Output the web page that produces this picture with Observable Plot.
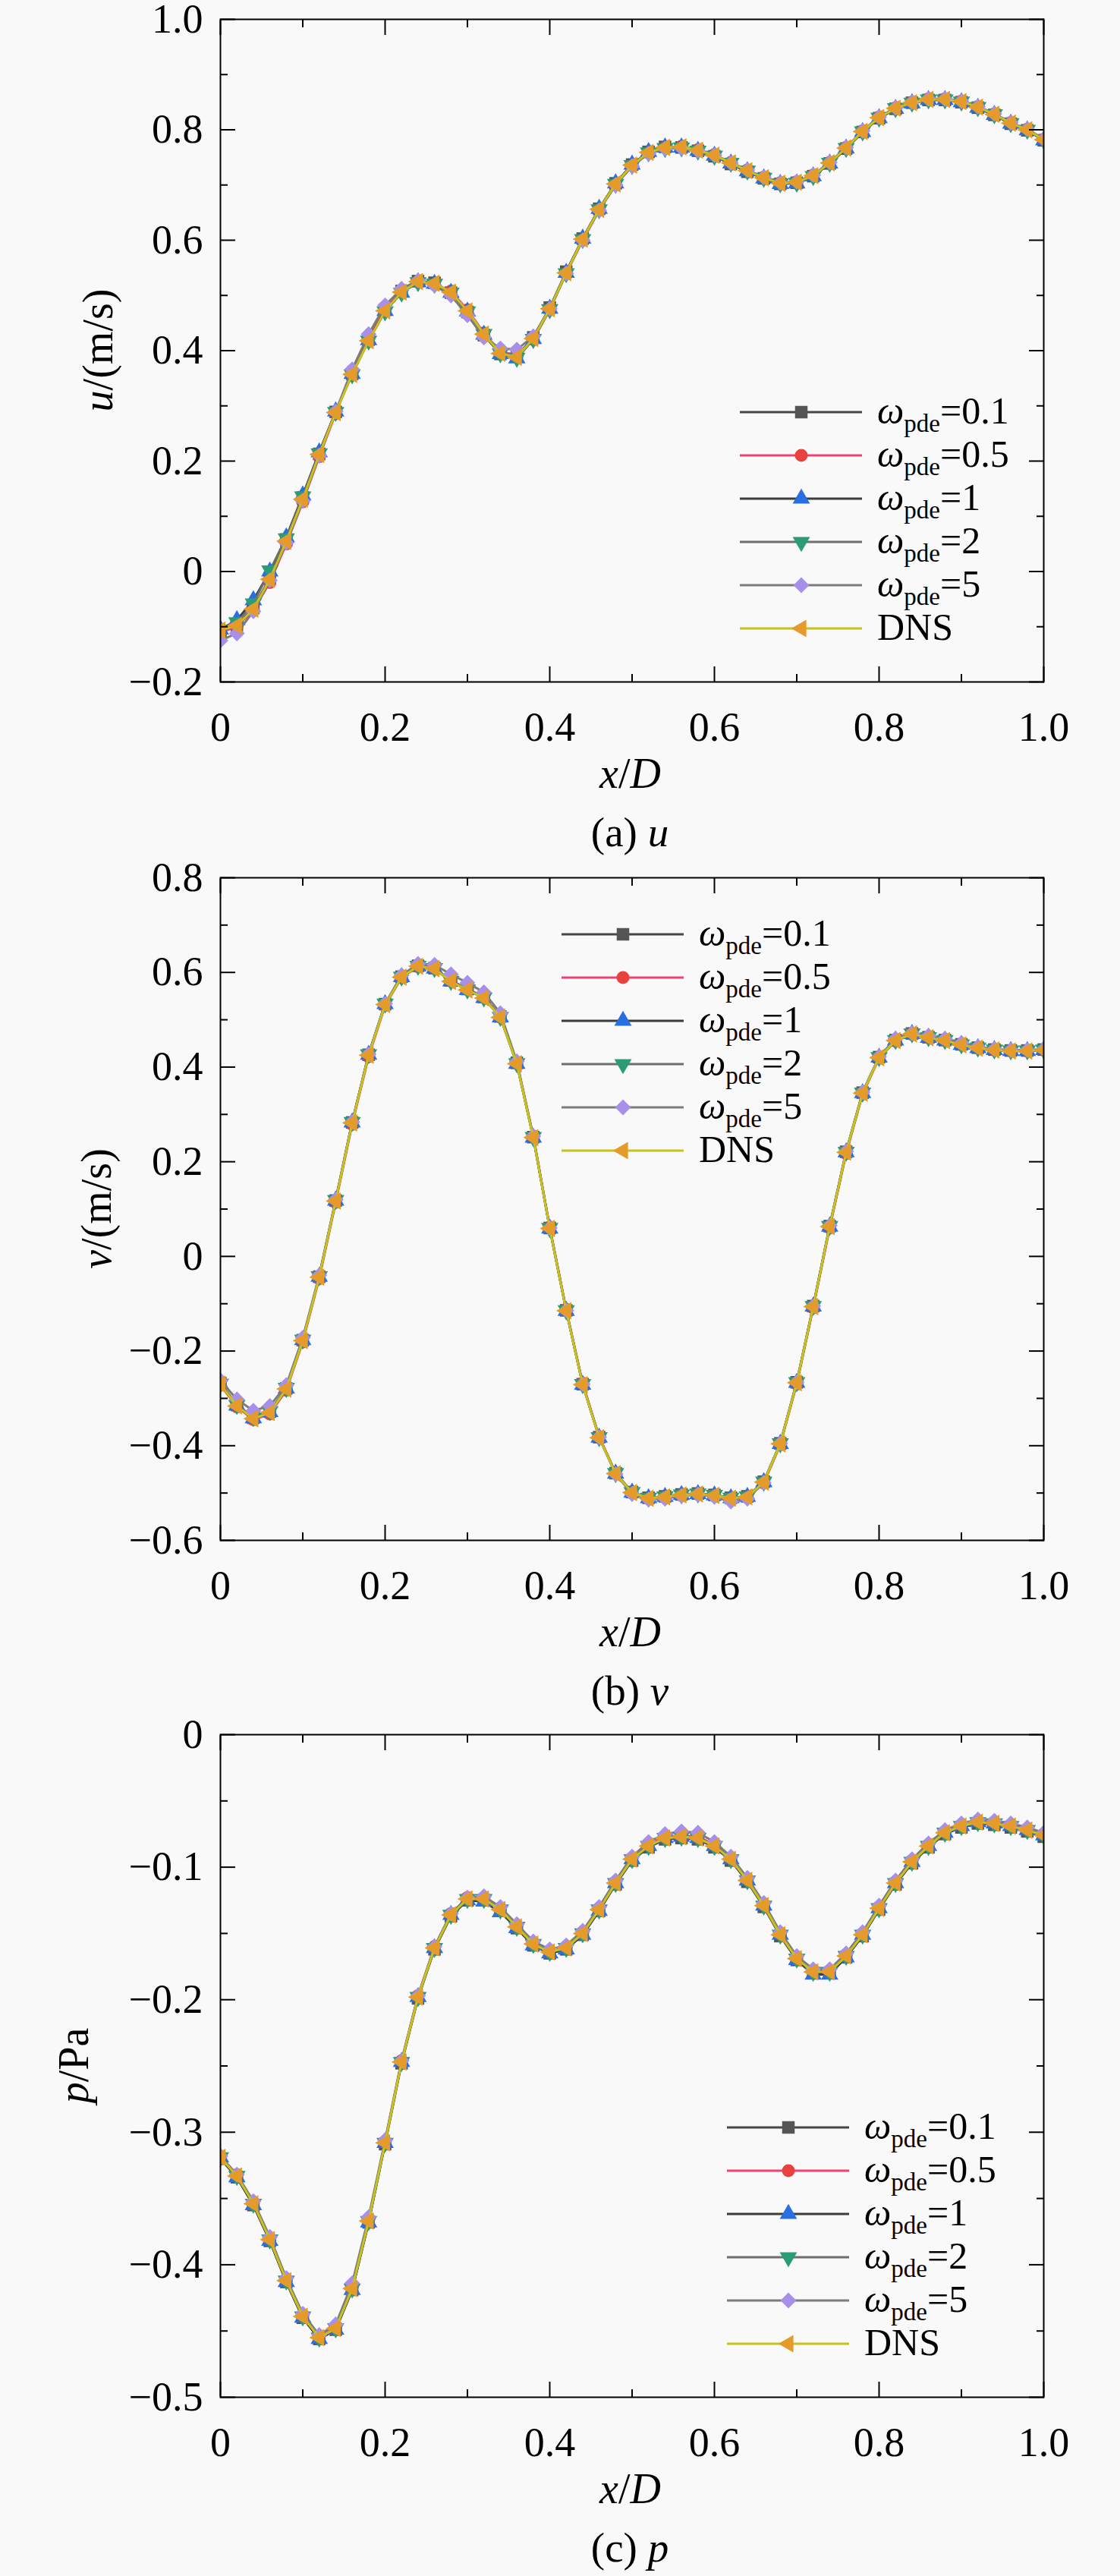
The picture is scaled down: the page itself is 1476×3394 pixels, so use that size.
<!DOCTYPE html>
<html>
<head>
<meta charset="utf-8">
<script src="https://cdn.jsdelivr.net/npm/d3@7"></script>
<script src="https://cdn.jsdelivr.net/npm/@observablehq/plot@0.6"></script>
<style>
html, body { margin: 0; padding: 0; background: #f9f9f9; }
body { width: 1476px; font-family: "Liberation Serif", "Times New Roman", serif; }
.panel { width: 1476px; }
.panel svg { display: block; }
.caption { height: 73px; box-sizing: border-box; padding-top: 11px; padding-left: 184px;
  font-size: 55px; line-height: 55px; text-align: center; color: #000; white-space: nowrap; }
.caption i { font-style: italic; }
</style>
</head>
<body>
<div id="root"></div>
<script>
// ---------- data ----------
const xPos = [0,0.02,0.04,0.06,0.08,0.1,0.12,0.14,0.16,0.18,0.2,0.22,0.24,0.26,0.28,0.3,0.32,0.34,0.36,0.38,0.4,0.42,0.44,0.46,0.48,0.5,0.52,0.54,0.56,0.58,0.6,0.62,0.64,0.66,0.68,0.7,0.72,0.74,0.76,0.78,0.8,0.82,0.84,0.86,0.88,0.9,0.92,0.94,0.96,0.98,1.0];

const seriesNames = ["0.1", "0.5", "1", "2", "5", "DNS"];

// u (m/s)
const u_w01 = [-0.108,-0.097,-0.066,-0.012,0.058,0.134,0.213,0.289,0.358,0.420,0.474,0.508,0.526,0.523,0.505,0.470,0.428,0.394,0.390,0.424,0.478,0.543,0.603,0.657,0.703,0.737,0.760,0.769,0.768,0.762,0.752,0.738,0.724,0.712,0.702,0.704,0.716,0.739,0.766,0.796,0.821,0.838,0.849,0.854,0.854,0.850,0.840,0.827,0.811,0.799,0.781];
const u_w05 = [-0.110,-0.100,-0.070,-0.020,0.050,0.126,0.208,0.286,0.364,0.424,0.476,0.508,0.524,0.520,0.508,0.474,0.432,0.398,0.392,0.420,0.474,0.540,0.600,0.655,0.700,0.735,0.758,0.768,0.770,0.764,0.755,0.741,0.727,0.714,0.704,0.706,0.718,0.741,0.768,0.798,0.823,0.840,0.850,0.856,0.856,0.852,0.842,0.829,0.813,0.801,0.783];
const u_w1  = [-0.105,-0.088,-0.052,0.000,0.062,0.138,0.216,0.290,0.358,0.419,0.472,0.505,0.524,0.521,0.505,0.471,0.429,0.394,0.386,0.421,0.476,0.541,0.603,0.657,0.703,0.737,0.760,0.768,0.768,0.762,0.753,0.739,0.725,0.712,0.702,0.703,0.716,0.739,0.766,0.796,0.821,0.838,0.848,0.854,0.854,0.850,0.840,0.827,0.811,0.799,0.781];
const u_w2  = [-0.107,-0.092,-0.058,0.002,0.060,0.136,0.214,0.289,0.357,0.418,0.471,0.505,0.524,0.521,0.505,0.471,0.430,0.395,0.387,0.421,0.475,0.540,0.602,0.656,0.702,0.736,0.759,0.767,0.768,0.762,0.753,0.740,0.726,0.713,0.703,0.704,0.716,0.740,0.767,0.797,0.822,0.839,0.849,0.855,0.855,0.851,0.841,0.828,0.812,0.800,0.782];
const u_w5  = [-0.125,-0.112,-0.072,-0.016,0.052,0.128,0.210,0.290,0.366,0.430,0.482,0.512,0.527,0.518,0.500,0.464,0.424,0.404,0.402,0.426,0.476,0.540,0.600,0.654,0.700,0.734,0.757,0.766,0.767,0.762,0.754,0.740,0.727,0.714,0.704,0.706,0.718,0.741,0.768,0.798,0.823,0.840,0.850,0.856,0.856,0.852,0.842,0.829,0.813,0.801,0.783];
const u_dns = [-0.106,-0.098,-0.068,-0.014,0.055,0.131,0.212,0.288,0.357,0.418,0.472,0.506,0.525,0.522,0.506,0.472,0.430,0.395,0.388,0.422,0.476,0.541,0.602,0.656,0.702,0.736,0.759,0.768,0.769,0.763,0.754,0.740,0.726,0.713,0.703,0.705,0.717,0.740,0.767,0.797,0.822,0.839,0.849,0.855,0.855,0.851,0.841,0.828,0.812,0.800,0.782];

// v (m/s)
const v_w01 = [-0.268,-0.314,-0.341,-0.328,-0.279,-0.177,-0.043,0.118,0.283,0.426,0.533,0.591,0.614,0.609,0.583,0.565,0.548,0.507,0.409,0.252,0.060,-0.114,-0.270,-0.382,-0.458,-0.498,-0.510,-0.507,-0.503,-0.501,-0.504,-0.510,-0.507,-0.476,-0.395,-0.266,-0.105,0.064,0.221,0.346,0.421,0.457,0.471,0.463,0.457,0.448,0.441,0.437,0.435,0.435,0.437];
const v_w05 = [-0.272,-0.318,-0.345,-0.333,-0.283,-0.181,-0.047,0.114,0.279,0.422,0.530,0.589,0.612,0.608,0.582,0.564,0.547,0.506,0.409,0.254,0.062,-0.112,-0.268,-0.381,-0.458,-0.499,-0.512,-0.509,-0.505,-0.503,-0.506,-0.512,-0.509,-0.479,-0.398,-0.270,-0.109,0.060,0.217,0.343,0.419,0.455,0.469,0.462,0.456,0.447,0.440,0.436,0.434,0.434,0.436];
const v_w1  = [-0.270,-0.315,-0.342,-0.329,-0.279,-0.177,-0.043,0.118,0.283,0.426,0.533,0.590,0.613,0.608,0.581,0.563,0.546,0.505,0.407,0.251,0.059,-0.115,-0.271,-0.383,-0.459,-0.499,-0.511,-0.508,-0.504,-0.502,-0.505,-0.511,-0.508,-0.477,-0.396,-0.267,-0.106,0.063,0.220,0.345,0.420,0.456,0.470,0.462,0.456,0.447,0.440,0.436,0.434,0.434,0.436];
const v_w2  = [-0.269,-0.314,-0.340,-0.327,-0.278,-0.176,-0.042,0.119,0.284,0.427,0.534,0.591,0.614,0.609,0.582,0.564,0.547,0.506,0.408,0.252,0.060,-0.114,-0.270,-0.382,-0.458,-0.498,-0.510,-0.507,-0.503,-0.501,-0.504,-0.510,-0.507,-0.476,-0.395,-0.266,-0.105,0.064,0.221,0.346,0.421,0.457,0.471,0.463,0.457,0.448,0.441,0.437,0.435,0.435,0.437];
const v_w5  = [-0.262,-0.302,-0.326,-0.316,-0.272,-0.172,-0.040,0.120,0.284,0.427,0.534,0.594,0.618,0.616,0.596,0.578,0.558,0.514,0.412,0.254,0.060,-0.114,-0.270,-0.382,-0.460,-0.502,-0.514,-0.512,-0.506,-0.503,-0.508,-0.518,-0.512,-0.478,-0.395,-0.266,-0.105,0.065,0.222,0.347,0.422,0.460,0.472,0.466,0.460,0.451,0.443,0.438,0.436,0.436,0.438];
const v_dns = [-0.270,-0.316,-0.343,-0.330,-0.280,-0.178,-0.044,0.117,0.282,0.425,0.532,0.590,0.613,0.608,0.581,0.563,0.546,0.505,0.407,0.251,0.059,-0.115,-0.271,-0.383,-0.459,-0.499,-0.511,-0.508,-0.504,-0.502,-0.505,-0.511,-0.508,-0.477,-0.396,-0.267,-0.106,0.063,0.220,0.345,0.420,0.456,0.470,0.462,0.456,0.447,0.440,0.436,0.434,0.434,0.436];

// p (Pa)
const p_w01 = [-0.320,-0.334,-0.355,-0.382,-0.413,-0.440,-0.456,-0.449,-0.419,-0.368,-0.309,-0.248,-0.199,-0.162,-0.137,-0.125,-0.125,-0.133,-0.146,-0.159,-0.165,-0.162,-0.151,-0.133,-0.113,-0.095,-0.085,-0.079,-0.078,-0.079,-0.085,-0.095,-0.111,-0.130,-0.152,-0.170,-0.180,-0.180,-0.168,-0.152,-0.132,-0.113,-0.097,-0.085,-0.075,-0.070,-0.067,-0.068,-0.070,-0.073,-0.077];
const p_w05 = [-0.318,-0.332,-0.353,-0.380,-0.411,-0.438,-0.454,-0.447,-0.417,-0.366,-0.307,-0.246,-0.197,-0.160,-0.135,-0.123,-0.123,-0.131,-0.144,-0.157,-0.163,-0.160,-0.149,-0.131,-0.111,-0.093,-0.083,-0.077,-0.076,-0.077,-0.083,-0.093,-0.109,-0.128,-0.150,-0.168,-0.178,-0.178,-0.166,-0.150,-0.130,-0.111,-0.095,-0.083,-0.073,-0.068,-0.065,-0.066,-0.068,-0.071,-0.075];
const p_w1  = [-0.319,-0.334,-0.355,-0.382,-0.413,-0.440,-0.456,-0.449,-0.419,-0.368,-0.308,-0.247,-0.198,-0.161,-0.136,-0.125,-0.126,-0.134,-0.146,-0.159,-0.165,-0.162,-0.151,-0.133,-0.112,-0.094,-0.084,-0.078,-0.077,-0.078,-0.084,-0.094,-0.110,-0.129,-0.151,-0.170,-0.181,-0.181,-0.168,-0.151,-0.131,-0.112,-0.096,-0.084,-0.074,-0.069,-0.066,-0.067,-0.069,-0.072,-0.076];
const p_w2  = [-0.319,-0.333,-0.354,-0.381,-0.412,-0.439,-0.455,-0.448,-0.418,-0.367,-0.308,-0.247,-0.198,-0.161,-0.136,-0.124,-0.124,-0.132,-0.145,-0.158,-0.164,-0.161,-0.150,-0.132,-0.112,-0.094,-0.084,-0.078,-0.077,-0.078,-0.084,-0.094,-0.110,-0.129,-0.151,-0.169,-0.179,-0.179,-0.167,-0.151,-0.131,-0.112,-0.096,-0.084,-0.074,-0.069,-0.066,-0.067,-0.069,-0.072,-0.076];
const p_w5  = [-0.318,-0.332,-0.352,-0.379,-0.410,-0.437,-0.453,-0.445,-0.414,-0.364,-0.306,-0.246,-0.197,-0.160,-0.135,-0.123,-0.122,-0.130,-0.143,-0.156,-0.162,-0.159,-0.148,-0.130,-0.110,-0.092,-0.081,-0.075,-0.073,-0.074,-0.081,-0.092,-0.108,-0.127,-0.149,-0.167,-0.177,-0.177,-0.165,-0.149,-0.129,-0.110,-0.094,-0.082,-0.072,-0.067,-0.064,-0.065,-0.067,-0.070,-0.074];
const p_dns = [-0.319,-0.333,-0.354,-0.381,-0.412,-0.439,-0.455,-0.448,-0.418,-0.367,-0.308,-0.247,-0.198,-0.161,-0.136,-0.124,-0.124,-0.132,-0.145,-0.158,-0.164,-0.161,-0.150,-0.132,-0.112,-0.094,-0.084,-0.078,-0.077,-0.078,-0.084,-0.094,-0.110,-0.129,-0.151,-0.169,-0.179,-0.179,-0.167,-0.151,-0.131,-0.112,-0.096,-0.084,-0.074,-0.069,-0.066,-0.067,-0.069,-0.072,-0.076];

// ticks
const xTicks = [0, 0.2, 0.4, 0.6, 0.8, 1.0];
const xMinor = [0.1, 0.3, 0.5, 0.7, 0.9];
const uTicks = [-0.2, 0, 0.2, 0.4, 0.6, 0.8, 1.0];
const uMinor = [-0.1, 0.1, 0.3, 0.5, 0.7, 0.9];
const vTicks = [-0.6, -0.4, -0.2, 0, 0.2, 0.4, 0.6, 0.8];
const vMinor = [-0.5, -0.3, -0.1, 0.1, 0.3, 0.5, 0.7];
const pTicks = [-0.5, -0.4, -0.3, -0.2, -0.1, 0];
const pMinor = [-0.45, -0.35, -0.25, -0.15, -0.05];

// ---------- styles ----------
const seriesStyle = [
  {line: "#474747", fill: "#555555", symbol: "square",   rotate: 0,   r: 9.3},
  {line: "#ef4274", fill: "#e8423e", symbol: "circle",   rotate: 0,   r: 8.5},
  {line: "#3c3c3c", fill: "#2a6fe0", symbol: "triangle", rotate: 0,   r: 8.5},
  {line: "#6e6e6e", fill: "#2b9b78", symbol: "triangle", rotate: 180, r: 8.5},
  {line: "#7c7c7c", fill: "#a78fea", symbol: "square",   rotate: 45,  r: 8.3},
  {line: "#c9c21c", fill: "#e49b2a", symbol: "triangle", rotate: -90, r: 8.5}
];
const symbolMap = {square: d3.symbolSquare, circle: d3.symbolCircle, triangle: d3.symbolTriangle};

const FF = '"Liberation Serif", "Times New Roman", serif';
const ML = 290, MR = 101, FH = 873, FW = 1476 - ML - MR, MB = 160;

const panels = [
  {values: [u_w01, u_w05, u_w1, u_w2, u_w5, u_dns], domain: [-0.2, 1.0], ticks: uTicks, minor: uMinor,
   mTop: 25, yVar: "u", yUnit: "/(m/s)", yLabelX: 132, legLeft: 685, legTop: 518, cap: "(a) ", capVar: "u"},
  {values: [v_w01, v_w05, v_w1, v_w2, v_w5, v_dns], domain: [-0.6, 0.8], ticks: vTicks, minor: vMinor,
   mTop: 25, yVar: "v", yUnit: "/(m/s)", yLabelX: 130, legLeft: 450, legTop: 75, cap: "(b) ", capVar: "v"},
  {values: [p_w01, p_w05, p_w1, p_w2, p_w5, p_dns], domain: [-0.5, 0], ticks: pTicks, minor: pMinor,
   mTop: 23, yVar: "p", yUnit: "/Pa", yLabelX: 100, legLeft: 668, legTop: 518, cap: "(c) ", capVar: "p"}
];

const fmt = d => Math.abs(d) < 1e-9 ? "0" : d3.format(".1f")(d);
const blank = () => "";

function buildPanel(cfg) {
  const marks = [];
  cfg.values.forEach((vals, i) => {
    const st = seriesStyle[i];
    const rows = xPos.map((x, j) => ({x, y: vals[j], s: seriesNames[i]}));
    marks.push(Plot.line(rows, {x: "x", y: "y", stroke: st.line, strokeWidth: 3, clip: true}));
    marks.push(Plot.dot(rows, {x: "x", y: "y", symbol: st.symbol, rotate: st.rotate, r: st.r, fill: st.fill, stroke: "none", clip: true}));
  });
  const axStyle = {fontSize: 54, fontFamily: FF, strokeWidth: 2, label: null};
  marks.push(
    Plot.axisY(cfg.ticks, {...axStyle, anchor: "left", tickSize: -20, tickPadding: 43, tickFormat: fmt}),
    Plot.axisY(cfg.minor, {...axStyle, anchor: "left", tickSize: -10, tickPadding: 0, tickFormat: blank}),
    Plot.axisY(cfg.ticks, {...axStyle, anchor: "right", tickSize: -20, tickPadding: 0, tickFormat: blank}),
    Plot.axisY(cfg.minor, {...axStyle, anchor: "right", tickSize: -10, tickPadding: 0, tickFormat: blank}),
    Plot.axisX(xTicks, {...axStyle, anchor: "bottom", tickSize: -20, tickPadding: 59, tickFormat: fmt}),
    Plot.axisX(xMinor, {...axStyle, anchor: "bottom", tickSize: -10, tickPadding: 0, tickFormat: blank}),
    Plot.axisX(xTicks, {...axStyle, anchor: "top", tickSize: -20, tickPadding: 0, tickFormat: blank}),
    Plot.axisX(xMinor, {...axStyle, anchor: "top", tickSize: -10, tickPadding: 0, tickFormat: blank}),
    Plot.frame({stroke: "#000", strokeWidth: 2})
  );
  const svg = Plot.plot({
    width: 1476,
    height: cfg.mTop + FH + MB,
    marginLeft: ML, marginRight: MR, marginTop: cfg.mTop, marginBottom: MB,
    x: {domain: [0, 1], label: null},
    y: {domain: cfg.domain, label: null},
    style: {background: "transparent", color: "#000", fontFamily: FF, fontSize: "54px", overflow: "visible"},
    marks
  });
  decorate(svg, cfg);
  return svg;
}

function decorate(svg, cfg) {
  const s = d3.select(svg);
  const T = cfg.mTop;
  // x-axis label
  const xl = s.append("text")
    .attr("x", ML + FW / 2 - 2).attr("y", T + FH + 140)
    .attr("text-anchor", "middle").attr("font-family", FF).attr("font-size", 56).attr("fill", "#000");
  xl.append("tspan").attr("font-style", "italic").text("x");
  xl.append("tspan").text("/");
  xl.append("tspan").attr("font-style", "italic").text("D");
  // y-axis label
  const yl = s.append("text")
    .attr("transform", `translate(${cfg.yLabelX + 16},${T + FH / 2}) rotate(-90)`)
    .attr("text-anchor", "middle").attr("font-family", FF).attr("font-size", 56).attr("fill", "#000");
  yl.append("tspan").attr("font-style", "italic").text(cfg.yVar);
  yl.append("tspan").text(cfg.yUnit);
  // legend
  const g = s.append("g").attr("class", "legend").attr("text-anchor", "start");
  seriesStyle.forEach((st, i) => {
    const y = T + cfg.legTop + i * 57;
    const x0 = ML + cfg.legLeft;
    g.append("line").attr("x1", x0).attr("x2", x0 + 161).attr("y1", y).attr("y2", y)
      .attr("stroke", st.line).attr("stroke-width", 3);
    g.append("path")
      .attr("d", d3.symbol(symbolMap[st.symbol], Math.PI * st.r * st.r)())
      .attr("transform", `translate(${x0 + 81},${y}) rotate(${st.rotate})`)
      .attr("fill", st.fill);
    const t = g.append("text").attr("x", x0 + 181).attr("y", y + 15)
      .attr("text-anchor", "start")
      .attr("font-family", FF).attr("font-size", 50).attr("fill", "#000");
    if (seriesNames[i] === "DNS") {
      t.text("DNS");
    } else {
      t.append("tspan").attr("font-style", "italic").text("ω");
      t.append("tspan").attr("font-size", 33).attr("dy", 11).text("pde");
      t.append("tspan").attr("dy", -11).text("=" + seriesNames[i]);
    }
  });
}

const root = document.getElementById("root");
panels.forEach(cfg => {
  const div = document.createElement("div");
  div.className = "panel";
  div.appendChild(buildPanel(cfg));
  const cap = document.createElement("div");
  cap.className = "caption";
  cap.innerHTML = cfg.cap + "<i>" + cfg.capVar + "</i>";
  div.appendChild(cap);
  root.appendChild(div);
});
</script>
</body>
</html>
